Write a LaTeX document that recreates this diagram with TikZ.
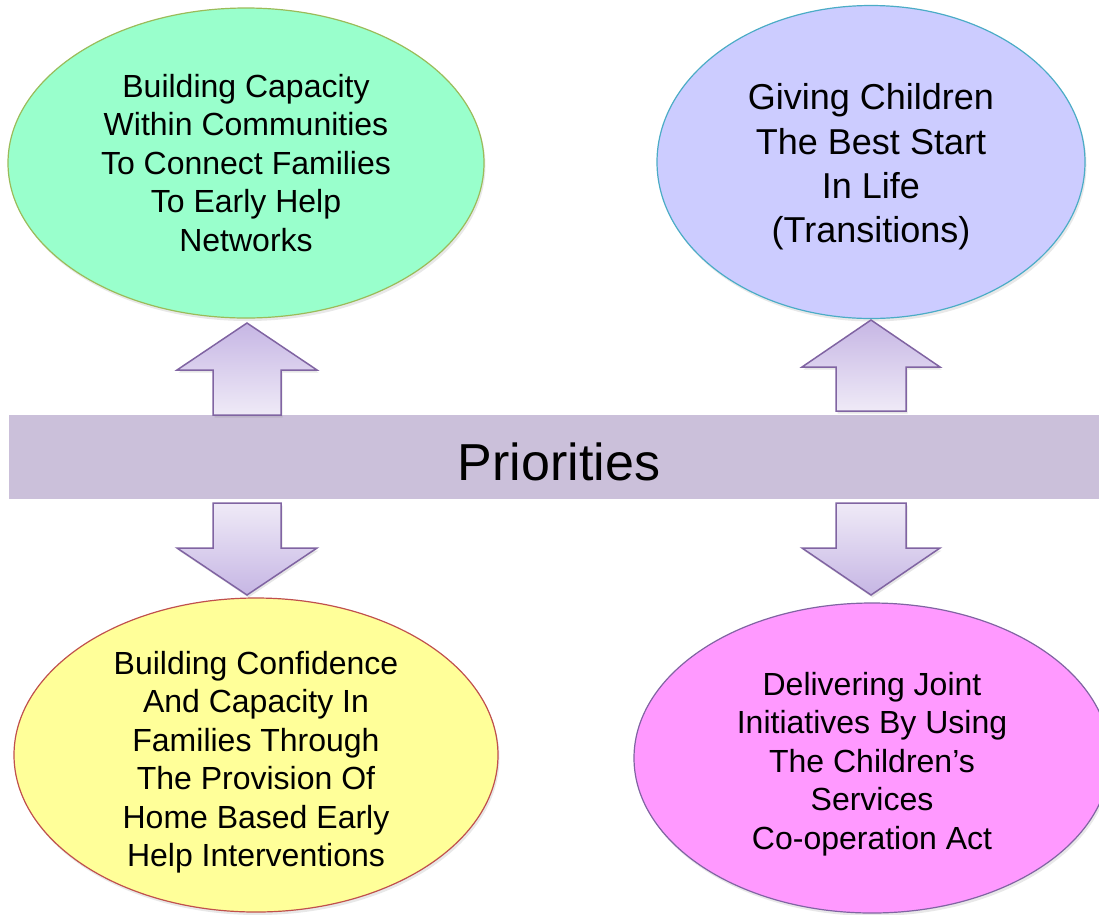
\documentclass[tikz,border=0pt]{standalone}
\usepackage{fontspec}
\setmainfont{Liberation Sans}
\usetikzlibrary{shapes.geometric,shadows}
\definecolor{greenfill}{HTML}{99FFCC}
\definecolor{greenline}{HTML}{9BBB59}
\definecolor{bluefill}{HTML}{CCCCFF}
\definecolor{blueline}{HTML}{4BACC6}
\definecolor{yellowfill}{HTML}{FFFF99}
\definecolor{redline}{HTML}{C0504D}
\definecolor{pinkfill}{HTML}{FF99FF}
\definecolor{purpleline}{HTML}{8064A2}
\definecolor{bandfill}{HTML}{CBC0DA}
\definecolor{arrowdark}{HTML}{C6B6E4}
\definecolor{arrowlight}{HTML}{EFEAF7}
\begin{document}
\begin{tikzpicture}[x=1pt,y=-1pt,
  bubble/.style={ellipse, draw, line width=1.2pt, inner sep=0pt,
    drop shadow={opacity=0.18, shadow xshift=1.5pt, shadow yshift=-3pt}},
  bubbletext/.style={align=center, inner sep=0pt, font=\fontsize{32}{38.5}\selectfont},
  blockup/.style={draw=purpleline, line width=1.5pt, line join=miter,
    top color=arrowdark, bottom color=arrowlight,
    drop shadow={opacity=0.2, shadow xshift=1.5pt, shadow yshift=-2.5pt}},
  blockdown/.style={draw=purpleline, line width=1.5pt, line join=miter,
    top color=arrowlight, bottom color=arrowdark,
    drop shadow={opacity=0.2, shadow xshift=1.5pt, shadow yshift=-2.5pt}}
]
\useasboundingbox (0,0) rectangle (1099,914);

% band
\node[rectangle, fill=bandfill, minimum width=1090pt, minimum height=84pt, inner sep=0pt] (band) at (554,457) {};
\node[font=\fontsize{52}{60}\selectfont, inner sep=0pt] (prio) at (559,462) {Priorities};

% ellipses
\node[bubble, fill=greenfill, draw=greenline, minimum width=476pt, minimum height=310pt] (tl) at (246,163) {};
\node[bubbletext] (tlt) at (246,163) {Building Capacity\\Within Communities\\To Connect Families\\To Early Help\\Networks};

\node[bubble, fill=bluefill, draw=blueline, minimum width=428pt, minimum height=313pt] (tr) at (871,162) {};
\node[bubbletext, font=\fontsize{36}{44.3}\selectfont] (trt) at (871,167) {Giving Children\\The Best Start\\In Life\\(Transitions)};

\node[bubble, fill=yellowfill, draw=redline, minimum width=484pt, minimum height=314pt] (bl) at (256,755) {};
\node[bubbletext] (blt) at (256,762) {Building Confidence\\And Capacity In\\Families Through\\The Provision Of\\Home Based Early\\Help Interventions};

\node[bubble, fill=pinkfill, draw=purpleline, minimum width=476pt, minimum height=310pt] (br) at (872,758) {};
\node[bubbletext] (brt) at (872,764) {Delivering Joint\\Initiatives By Using\\The Children’s\\Services\\Co-operation Act};

% block arrows
\path[blockup] (213,415)--(213,370)--(177,370)--(247,323)--(317,370)--(281,370)--(281,415)--cycle;
\path[blockdown] (213,503)--(213,548)--(177,548)--(247,595)--(317,548)--(281,548)--(281,503)--cycle;
\path[blockup] (836,411)--(836,367)--(802,367)--(871,320)--(940,367)--(906,367)--(906,411)--cycle;
\path[blockdown] (836,503)--(836,548)--(802,548)--(871,595)--(940,548)--(906,548)--(906,503)--cycle;
\end{tikzpicture}
\end{document}
